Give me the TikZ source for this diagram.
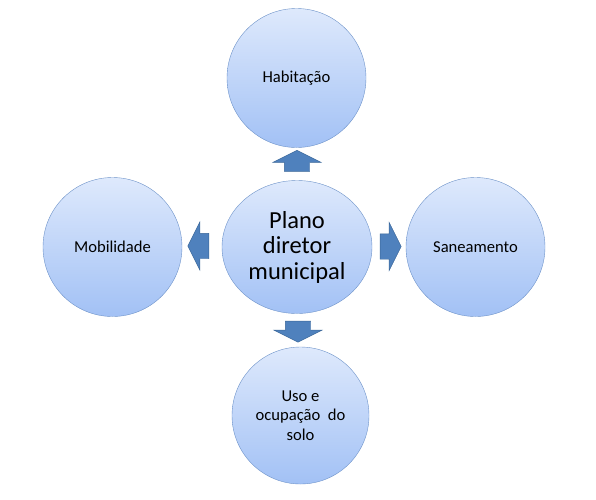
\documentclass[tikz,border=0pt]{standalone}
\usepackage{fontspec}
\setmainfont{Carlito}
\usetikzlibrary{
    positioning,
    shapes.geometric,
    shapes.arrows
}

\definecolor{ballTop}{HTML}{DEE9FC}
\definecolor{ballBottom}{HTML}{A2C1F5}
\definecolor{ballLine}{HTML}{6E93C9}
\definecolor{arrowFill}{HTML}{4F81BD}
\definecolor{arrowLine}{HTML}{3A6698}

\begin{document}
\begin{tikzpicture}
[
    x=1pt,
    y=-1pt,
    ball/.style={
        circle,
        draw=ballLine,
        thin,
        top color=ballTop,
        bottom color=ballBottom,
        align=center,
        inner sep=0pt,
        font=\fontsize{16.6}{19.5}\selectfont,
        minimum size=139pt
    },
    hub/.style={
        ellipse,
        draw=ballLine,
        thin,
        top color=ballTop,
        bottom color=ballBottom,
        align=center,
        inner sep=0pt,
        font=\fontsize{24.5}{25.5}\selectfont,
        minimum width=150pt,
        minimum height=133pt
    },
    push/.style={
        single arrow,
        draw=arrowLine,
        fill=arrowFill,
        inner xsep=0pt,
        inner ysep=12.5pt,
        minimum height=21pt,
        single arrow head extend=11.5pt,
        single arrow tip angle=127
    }
]

\useasboundingbox (0,0) rectangle (596,499);


% =====================
% CENTRE
% =====================

\node[hub] (plano) at (297,247)
{
Plano\\
diretor\\
municipal
};


% =====================
% THEMES
% =====================

\node[ball] (habitacao) at (296.5,78) {Habitação};

\node[ball] (mobilidade) at (112.5,247) {Mobilidade};

\node[ball] (saneamento) at (475.5,247) {Saneamento};

\node[ball, minimum size=137pt] (solo) at (300.5,415.5)
{
Uso e\\
ocupação~ do\\
solo
};


% =====================
% ARROWS
% =====================

\node[push, rotate=90] (toHabitacao) at (297,164) {};

\node[push, rotate=180] (toMobilidade) at (201.5,246) {};

\node[push] (toSaneamento) at (387.5,246.5) {};

\node[push, rotate=270] (toSolo) at (298,328.5) {};


\end{tikzpicture}
\end{document}
